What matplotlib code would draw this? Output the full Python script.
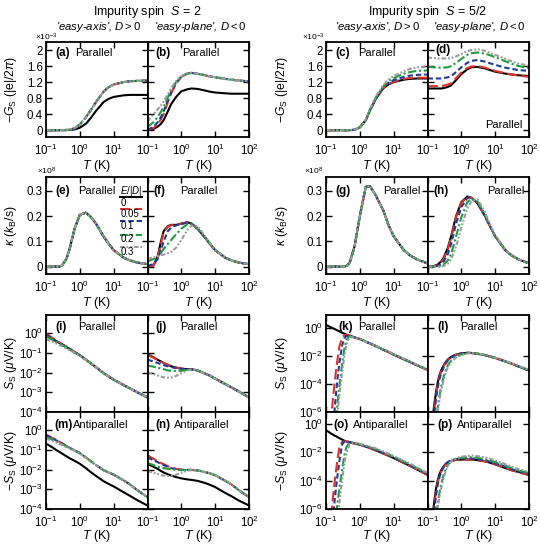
import matplotlib
matplotlib.use('Agg')
import matplotlib.pyplot as plt

plt.rcParams['font.family'] = ['Liberation Sans', 'DejaVu Sans']
plt.rcParams['mathtext.fontset'] = 'custom'
plt.rcParams['mathtext.rm'] = 'Liberation Sans'
plt.rcParams['mathtext.it'] = 'Liberation Sans:italic'
plt.rcParams['mathtext.bf'] = 'Liberation Sans:bold'

# ---------------- data ----------------
T = [0.1, 0.15, 0.2, 0.25, 0.3, 0.4, 0.5, 0.7, 1, 1.5, 2, 3, 5, 7, 10, 20, 30, 50, 100]
TL = [0.1, 0.12, 0.14, 0.16, 0.18, 0.2, 0.22, 0.25, 0.3, 0.35, 0.4, 0.5, 0.7, 1, 1.5, 2, 3, 5, 7, 10, 20, 30, 50, 100]
E_OVER_D = ['0', '0.05', '0.1', '0.2', '0.3']

# (a) -G_S, S=2, easy axis  (x1e-3)
A_BLACK = [0, 0, 0, 0, 0, 0.002, 0.005, 0.02, 0.06, 0.16, 0.28, 0.48, 0.7, 0.78, 0.83, 0.87, 0.88, 0.88, 0.88]
A_COLOR = [0, 0, 0, 0, 0.002, 0.005, 0.01, 0.05, 0.14, 0.32, 0.47, 0.7, 0.96, 1.07, 1.14, 1.2, 1.22, 1.23, 1.24]
# (b) -G_S, S=2, easy plane
B_BLACK = [0, 0.03, 0.09, 0.16, 0.25, 0.47, 0.65, 0.83, 0.97, 1.02, 1.04, 1.03, 0.99, 0.96, 0.94, 0.92, 0.91, 0.91, 0.91]
B_RED = [0, 0.05, 0.15, 0.27, 0.4, 0.7, 0.92, 1.16, 1.33, 1.41, 1.43, 1.41, 1.37, 1.34, 1.32, 1.28, 1.26, 1.24, 1.22]
B_BLUE = [0.01, 0.08, 0.2, 0.33, 0.47, 0.75, 0.95, 1.18, 1.34, 1.41, 1.43, 1.41, 1.37, 1.34, 1.32, 1.28, 1.26, 1.24, 1.22]
B_GREEN = [0.08, 0.2, 0.33, 0.46, 0.58, 0.82, 1.0, 1.2, 1.34, 1.41, 1.43, 1.41, 1.37, 1.34, 1.32, 1.28, 1.26, 1.24, 1.22]
B_GRAY = [0.22, 0.4, 0.52, 0.62, 0.72, 0.9, 1.05, 1.22, 1.35, 1.42, 1.43, 1.41, 1.37, 1.34, 1.32, 1.28, 1.26, 1.24, 1.22]
# (c) -G_S, S=5/2, easy axis
C_BLACK = [0, 0, 0, 0, 0, 0, 0, 0.01, 0.07, 0.25, 0.5, 0.79, 1.05, 1.14, 1.2, 1.26, 1.28, 1.29, 1.29]
C_RED = [0, 0, 0, 0, 0, 0, 0, 0.01, 0.07, 0.25, 0.5, 0.79, 1.06, 1.15, 1.21, 1.28, 1.3, 1.31, 1.31]
C_BLUE = [0, 0, 0, 0, 0, 0, 0, 0.01, 0.07, 0.25, 0.5, 0.8, 1.08, 1.18, 1.25, 1.33, 1.36, 1.38, 1.39]
C_GREEN = [0, 0, 0, 0, 0, 0, 0, 0.01, 0.07, 0.25, 0.51, 0.82, 1.1, 1.22, 1.3, 1.41, 1.45, 1.48, 1.49]
C_GRAY = [0, 0, 0, 0, 0, 0, 0, 0.01, 0.08, 0.27, 0.53, 0.85, 1.13, 1.26, 1.35, 1.47, 1.53, 1.57, 1.58]
# (d) -G_S, S=5/2, easy plane
D_BLACK = [1.04, 1.04, 1.04, 1.04, 1.05, 1.08, 1.12, 1.25, 1.4, 1.52, 1.57, 1.58, 1.54, 1.5, 1.46, 1.41, 1.39, 1.37, 1.35]
D_RED = [1.1, 1.1, 1.1, 1.1, 1.11, 1.14, 1.17, 1.3, 1.44, 1.55, 1.59, 1.6, 1.56, 1.52, 1.48, 1.42, 1.39, 1.36, 1.33]
D_BLUE = [1.29, 1.29, 1.29, 1.29, 1.3, 1.32, 1.35, 1.45, 1.57, 1.68, 1.73, 1.75, 1.71, 1.67, 1.63, 1.56, 1.53, 1.5, 1.48]
D_GREEN = [1.58, 1.57, 1.56, 1.56, 1.56, 1.57, 1.6, 1.68, 1.78, 1.88, 1.92, 1.94, 1.91, 1.87, 1.82, 1.72, 1.66, 1.6, 1.55]
D_GRAY = [1.81, 1.8, 1.79, 1.79, 1.79, 1.79, 1.8, 1.84, 1.9, 1.97, 2.0, 2.02, 1.98, 1.93, 1.88, 1.78, 1.72, 1.66, 1.61]

# (e)-(h) kappa (x1e8)
E_ALL = [0, 0, 0, 0, 0.005, 0.03, 0.07, 0.15, 0.205, 0.213, 0.2, 0.17, 0.12, 0.092, 0.065, 0.035, 0.025, 0.016, 0.01]
F_BLACK = [0, 0.005, 0.04, 0.1, 0.14, 0.16, 0.165, 0.165, 0.17, 0.175, 0.17, 0.15, 0.115, 0.09, 0.065, 0.035, 0.025, 0.016, 0.01]
F_RED = [0, 0.004, 0.035, 0.09, 0.135, 0.158, 0.164, 0.165, 0.17, 0.175, 0.17, 0.15, 0.115, 0.09, 0.065, 0.035, 0.025, 0.016, 0.01]
F_BLUE = [0.003, 0.01, 0.03, 0.065, 0.1, 0.14, 0.155, 0.163, 0.168, 0.174, 0.17, 0.15, 0.115, 0.09, 0.065, 0.035, 0.025, 0.016, 0.01]
F_GREEN = [0.02, 0.03, 0.04, 0.055, 0.07, 0.09, 0.105, 0.128, 0.15, 0.167, 0.17, 0.152, 0.116, 0.091, 0.065, 0.035, 0.025, 0.016, 0.01]
F_GRAY = [0.03, 0.037, 0.042, 0.045, 0.048, 0.052, 0.058, 0.075, 0.105, 0.145, 0.162, 0.16, 0.12, 0.093, 0.066, 0.035, 0.025, 0.016, 0.01]
G_ALL = [0, 0, 0, 0, 0, 0.003, 0.015, 0.08, 0.2, 0.315, 0.318, 0.28, 0.22, 0.165, 0.12, 0.065, 0.045, 0.028, 0.013]
H_BLACK = [0, 0.002, 0.008, 0.02, 0.035, 0.075, 0.12, 0.2, 0.255, 0.277, 0.272, 0.25, 0.2, 0.16, 0.12, 0.065, 0.045, 0.028, 0.013]
H_RED = [0, 0.001, 0.006, 0.017, 0.03, 0.07, 0.115, 0.195, 0.252, 0.276, 0.272, 0.25, 0.2, 0.16, 0.12, 0.065, 0.045, 0.028, 0.013]
H_BLUE = [0, 0, 0.003, 0.01, 0.02, 0.05, 0.09, 0.17, 0.235, 0.272, 0.272, 0.252, 0.2, 0.16, 0.12, 0.065, 0.045, 0.028, 0.013]
H_GREEN = [0, 0, 0, 0.003, 0.008, 0.025, 0.05, 0.12, 0.195, 0.255, 0.268, 0.258, 0.205, 0.162, 0.12, 0.065, 0.045, 0.028, 0.013]
H_GRAY = [0, 0, 0, 0, 0.003, 0.012, 0.03, 0.08, 0.155, 0.23, 0.258, 0.266, 0.215, 0.168, 0.124, 0.067, 0.046, 0.029, 0.013]

# (i),(j),(m),(n) S_S, S=2
I_BLACK = [0.9, 0.55, 0.4, 0.32, 0.27, 0.2, 0.16, 0.11, 0.077, 0.046, 0.032, 0.019, 0.0095, 0.0065, 0.0044, 0.0023, 0.0016, 0.001, 0.00055]
I_RED = [1.0, 0.6, 0.43, 0.34, 0.28, 0.21, 0.165, 0.112, 0.078, 0.046, 0.032, 0.019, 0.0095, 0.0065, 0.0044, 0.0023, 0.0016, 0.001, 0.00055]
I_BLUE = [0.85, 0.55, 0.4, 0.32, 0.27, 0.2, 0.16, 0.11, 0.077, 0.046, 0.032, 0.019, 0.0095, 0.0065, 0.0044, 0.0023, 0.0016, 0.001, 0.00055]
I_GREEN = [0.7, 0.48, 0.36, 0.3, 0.25, 0.19, 0.15, 0.105, 0.075, 0.045, 0.032, 0.019, 0.0095, 0.0065, 0.0044, 0.0023, 0.0016, 0.001, 0.00055]
I_GRAY = [0.5, 0.38, 0.3, 0.25, 0.22, 0.17, 0.14, 0.1, 0.073, 0.045, 0.032, 0.019, 0.0095, 0.0065, 0.0044, 0.0023, 0.0016, 0.001, 0.00055]
J_BLACK = [0.087, 0.06, 0.045, 0.037, 0.031, 0.025, 0.021, 0.018, 0.016, 0.015, 0.0148, 0.013, 0.009, 0.007, 0.005, 0.0026, 0.0018, 0.0011, 0.00055]
J_RED = [0.08, 0.057, 0.044, 0.036, 0.031, 0.025, 0.021, 0.018, 0.016, 0.015, 0.0148, 0.013, 0.009, 0.007, 0.005, 0.0026, 0.0018, 0.0011, 0.00055]
J_BLUE = [0.046, 0.037, 0.031, 0.027, 0.024, 0.021, 0.019, 0.017, 0.0155, 0.015, 0.0148, 0.013, 0.009, 0.007, 0.005, 0.0026, 0.0018, 0.0011, 0.00055]
J_GREEN = [0.023, 0.02, 0.018, 0.016, 0.015, 0.013, 0.0125, 0.012, 0.0125, 0.014, 0.0147, 0.013, 0.009, 0.007, 0.005, 0.0026, 0.0018, 0.0011, 0.00055]
J_GRAY = [0.0107, 0.0085, 0.0072, 0.0063, 0.0058, 0.0055, 0.0056, 0.0068, 0.0095, 0.013, 0.0145, 0.013, 0.009, 0.007, 0.005, 0.0026, 0.0018, 0.0011, 0.00055]
M_BLACK = [0.21, 0.14, 0.1, 0.08, 0.065, 0.048, 0.038, 0.028, 0.02, 0.012, 0.008, 0.0048, 0.0026, 0.0019, 0.0014, 0.0007, 0.00047, 0.00028, 0.00015]
M_RED = [0.62, 0.42, 0.32, 0.26, 0.22, 0.16, 0.13, 0.095, 0.07, 0.042, 0.029, 0.017, 0.0095, 0.0072, 0.0056, 0.0028, 0.0018, 0.0009, 0.0004]
M_BLUE = [0.55, 0.4, 0.31, 0.25, 0.21, 0.16, 0.13, 0.095, 0.07, 0.042, 0.029, 0.017, 0.0095, 0.0072, 0.0056, 0.0028, 0.0018, 0.0009, 0.0004]
M_GREEN = [0.45, 0.34, 0.27, 0.23, 0.2, 0.15, 0.125, 0.092, 0.068, 0.041, 0.029, 0.017, 0.0095, 0.0072, 0.0056, 0.0028, 0.0018, 0.0009, 0.0004]
M_GRAY = [0.38, 0.3, 0.24, 0.2, 0.18, 0.14, 0.12, 0.09, 0.066, 0.041, 0.029, 0.017, 0.0095, 0.0072, 0.0056, 0.0028, 0.0018, 0.0009, 0.0004]
N_BLACK = [0.02, 0.014, 0.011, 0.0085, 0.0072, 0.0058, 0.005, 0.0042, 0.0036, 0.0032, 0.003, 0.0027, 0.0021, 0.0017, 0.0013, 0.00065, 0.00045, 0.00027, 0.00015]
N_RED = [0.054, 0.036, 0.027, 0.022, 0.019, 0.015, 0.013, 0.011, 0.01, 0.0098, 0.0097, 0.0092, 0.0075, 0.0065, 0.0052, 0.0027, 0.0018, 0.0009, 0.0004]
N_BLUE = [0.042, 0.03, 0.024, 0.02, 0.017, 0.014, 0.012, 0.0105, 0.0098, 0.0097, 0.0097, 0.0092, 0.0075, 0.0065, 0.0052, 0.0027, 0.0018, 0.0009, 0.0004]
N_GREEN = [0.022, 0.017, 0.014, 0.013, 0.012, 0.011, 0.0105, 0.0098, 0.0095, 0.0096, 0.0097, 0.0092, 0.0075, 0.0065, 0.0052, 0.0027, 0.0018, 0.0009, 0.0004]
N_GRAY = [0.0085, 0.007, 0.006, 0.0053, 0.005, 0.0047, 0.0048, 0.0055, 0.007, 0.0088, 0.0095, 0.0093, 0.0075, 0.0065, 0.0052, 0.0027, 0.0018, 0.0009, 0.0004]

# (k),(l),(o),(p) S_S, S=5/2  (on TL grid)
K_BLACK = [1.75, 1.41, 1.18, 1.01, 0.88, 0.78, 0.7, 0.6, 0.48, 0.41, 0.36, 0.3, 0.22, 0.17, 0.11, 0.082, 0.052, 0.029, 0.02, 0.013, 0.006, 0.0039, 0.0022, 0.00105]
K_RED = [1e-12, 1e-9, 2e-7, 8.7e-6, 1.3e-4, 1.1e-3, 6.6e-3, 0.054, 0.2, 0.32, 0.34, 0.3, 0.22, 0.17, 0.11, 0.082, 0.052, 0.029, 0.02, 0.013, 0.006, 0.0039, 0.0022, 0.00105]
K_BLUE = [1e-15, 1e-12, 1e-9, 6e-8, 1.5e-6, 2.8e-5, 2.6e-4, 3.7e-3, 0.06, 0.2, 0.28, 0.29, 0.22, 0.17, 0.11, 0.082, 0.052, 0.029, 0.02, 0.013, 0.006, 0.0039, 0.0022, 0.00105]
K_GREEN = [1e-17, 1e-14, 1e-11, 1e-9, 2e-8, 4e-7, 4.6e-6, 8e-5, 2.9e-3, 0.036, 0.15, 0.27, 0.22, 0.17, 0.11, 0.082, 0.052, 0.03, 0.021, 0.0135, 0.0063, 0.0041, 0.0023, 0.0011]
K_GRAY = [1e-18, 1e-15, 1e-12, 1e-10, 3e-9, 6e-8, 1e-6, 1.7e-5, 7e-4, 0.01, 0.07, 0.23, 0.22, 0.17, 0.11, 0.083, 0.053, 0.031, 0.022, 0.014, 0.0066, 0.0043, 0.0024, 0.00115]
L_BLACK = [1e-10, 1e-8, 3e-7, 4e-6, 3e-5, 1.3e-4, 3.5e-4, 9e-4, 2.2e-3, 4e-3, 5.8e-3, 9e-3, 0.013, 0.016, 0.0175, 0.017, 0.015, 0.012, 0.0095, 0.0076, 0.0042, 0.003, 0.0018, 0.00095]
L_RED = [1e-11, 3e-9, 1e-7, 1.8e-6, 1.8e-5, 9e-5, 2.8e-4, 7.5e-4, 2e-3, 3.7e-3, 5.5e-3, 8.7e-3, 0.0128, 0.0158, 0.0175, 0.017, 0.015, 0.012, 0.0095, 0.0076, 0.0042, 0.003, 0.0018, 0.00095]
L_BLUE = [1e-12, 1e-9, 4e-8, 1e-6, 1e-5, 5.5e-5, 1.8e-4, 5.5e-4, 1.6e-3, 3.2e-3, 5e-3, 8.2e-3, 0.0125, 0.0157, 0.0175, 0.017, 0.015, 0.012, 0.0095, 0.0076, 0.0042, 0.003, 0.0018, 0.00095]
L_GREEN = [1e-14, 1e-11, 1e-9, 5e-8, 4e-7, 2e-6, 1e-5, 6e-5, 3.5e-4, 1.1e-3, 2.3e-3, 5e-3, 9.5e-3, 0.0135, 0.0165, 0.0172, 0.0155, 0.0122, 0.0097, 0.0078, 0.0043, 0.0031, 0.0019, 0.001]
L_GRAY = [1e-15, 1e-12, 1e-10, 1e-8, 1.5e-7, 1e-6, 5e-6, 3e-5, 2e-4, 7e-4, 1.6e-3, 4e-3, 8e-3, 0.012, 0.0158, 0.017, 0.0158, 0.0125, 0.01, 0.008, 0.0045, 0.0032, 0.002, 0.00105]
O_BLACK = [0.34, 0.26, 0.2, 0.17, 0.14, 0.13, 0.11, 0.095, 0.075, 0.062, 0.055, 0.048, 0.04, 0.033, 0.024, 0.019, 0.013, 0.0078, 0.0055, 0.0038, 0.0017, 0.0011, 0.00058, 0.00025]
O_RED = [1e-12, 1e-9, 1.5e-7, 6e-6, 8e-5, 6.3e-4, 3.4e-3, 0.025, 0.05, 0.058, 0.056, 0.049, 0.04, 0.033, 0.024, 0.019, 0.013, 0.0078, 0.0055, 0.0038, 0.0017, 0.0011, 0.00058, 0.00025]
O_BLUE = [1e-14, 1e-11, 1e-9, 1e-7, 4e-6, 4e-5, 2.6e-4, 2.5e-3, 0.035, 0.055, 0.057, 0.05, 0.041, 0.034, 0.025, 0.02, 0.014, 0.0085, 0.006, 0.0042, 0.0019, 0.0012, 0.00064, 0.00028]
O_GREEN = [1e-16, 1e-13, 1e-11, 1e-9, 3e-8, 4e-7, 3e-6, 3e-5, 6e-4, 6e-3, 0.022, 0.048, 0.043, 0.036, 0.027, 0.022, 0.016, 0.0098, 0.0069, 0.0048, 0.0021, 0.0014, 0.00073, 0.00032]
O_GRAY = [1e-18, 1e-15, 1e-13, 1e-11, 1e-9, 2e-8, 2e-7, 3e-6, 1e-4, 1.5e-3, 8e-3, 0.035, 0.045, 0.038, 0.029, 0.024, 0.018, 0.011, 0.0077, 0.0053, 0.0024, 0.0016, 0.0008, 0.00035]
P_BLACK = [1e-10, 1e-8, 3e-7, 4e-6, 3e-5, 1e-4, 2.3e-4, 5e-4, 1e-3, 1.5e-3, 1.9e-3, 2.4e-3, 2.8e-3, 2.95e-3, 3e-3, 2.95e-3, 2.7e-3, 2.2e-3, 1.8e-3, 1.35e-3, 7.5e-4, 5.3e-4, 4e-4, 2.4e-4]
P_RED = [1e-11, 3e-9, 1e-7, 1.8e-6, 1.8e-5, 7e-5, 1.8e-4, 4.2e-4, 9e-4, 1.4e-3, 1.8e-3, 2.35e-3, 2.8e-3, 3e-3, 3.05e-3, 3e-3, 2.75e-3, 2.25e-3, 1.85e-3, 1.4e-3, 7.8e-4, 5.5e-4, 3.6e-4, 2.5e-4]
P_BLUE = [1e-12, 1e-9, 4e-8, 1e-6, 1e-5, 5e-5, 1.4e-4, 3.7e-4, 9e-4, 1.5e-3, 2e-3, 2.7e-3, 3.2e-3, 3.5e-3, 3.55e-3, 3.5e-3, 3.2e-3, 2.6e-3, 2.15e-3, 1.65e-3, 9.2e-4, 6.5e-4, 4.3e-4, 2.9e-4]
P_GREEN = [1e-14, 1e-11, 1e-9, 5e-8, 4e-7, 2e-6, 1e-5, 5e-5, 2.5e-4, 7e-4, 1.3e-3, 2.3e-3, 3.3e-3, 4e-3, 4.3e-3, 4.3e-3, 3.9e-3, 3.2e-3, 2.6e-3, 2e-3, 1.1e-3, 7.8e-4, 5.1e-4, 3.4e-4]
P_GRAY = [1e-15, 1e-12, 1e-10, 1e-8, 1.5e-7, 1e-6, 5e-6, 2.5e-5, 1.5e-4, 5e-4, 1.1e-3, 2.2e-3, 3.6e-3, 4.7e-3, 5.4e-3, 5.6e-3, 5.2e-3, 4.2e-3, 3.4e-3, 2.6e-3, 1.4e-3, 9.5e-4, 6.2e-4, 4e-4]

# ---------------- styles ----------------
STYLES = [
    dict(color='black', lw=1.5, ls='-'),
    dict(color='#e3312b', lw=1.5, dashes=(5, 2)),
    dict(color='#1f3a9a', lw=1.5, dashes=(2.6, 1.4)),
    dict(color='#1f9a3e', lw=1.5, dashes=(4, 1.3, 1, 1.3)),
    dict(color='#9b9b9b', lw=1.5, dashes=(2.2, 0.9, 0.9, 0.9, 0.9, 0.9)),
]

W, H = 540, 544
fig = plt.figure(figsize=(W / 100, H / 100), dpi=100)

COLS = [46, 147.5, 326, 427.5]
PW = 101.5
ROWS = [(42, 137), (177, 274), (315, 412), (412, 509)]

def fx(px):
    return px / W

def fy(py):
    return 1 - py / H

def make_ax(col, row):
    x0 = COLS[col]
    y0, y1 = ROWS[row]
    return fig.add_axes([fx(x0), fy(y1), PW / W, (y1 - y0) / H])

XT = [0.1, 1, 10, 100]
XL_FULL = [r'$\mathdefault{10^{-1}}$', r'$\mathdefault{10^{0}}$', r'$\mathdefault{10^{1}}$', r'$\mathdefault{10^{2}}$']
XL_LEFT = XL_FULL[:3] + ['']

panels = [
    # label, col, row, x, series
    ('a', 0, 0, T, [A_BLACK, A_COLOR, A_COLOR, A_COLOR, A_COLOR]),
    ('b', 1, 0, T, [B_BLACK, B_RED, B_BLUE, B_GREEN, B_GRAY]),
    ('c', 2, 0, T, [C_BLACK, C_RED, C_BLUE, C_GREEN, C_GRAY]),
    ('d', 3, 0, T, [D_BLACK, D_RED, D_BLUE, D_GREEN, D_GRAY]),
    ('e', 0, 1, T, [E_ALL, E_ALL, E_ALL, E_ALL, E_ALL]),
    ('f', 1, 1, T, [F_BLACK, F_RED, F_BLUE, F_GREEN, F_GRAY]),
    ('g', 2, 1, T, [G_ALL, G_ALL, G_ALL, G_ALL, G_ALL]),
    ('h', 3, 1, T, [H_BLACK, H_RED, H_BLUE, H_GREEN, H_GRAY]),
    ('i', 0, 2, T, [I_BLACK, I_RED, I_BLUE, I_GREEN, I_GRAY]),
    ('j', 1, 2, T, [J_BLACK, J_RED, J_BLUE, J_GREEN, J_GRAY]),
    ('k', 2, 2, TL, [K_BLACK, K_RED, K_BLUE, K_GREEN, K_GRAY]),
    ('l', 3, 2, TL, [L_BLACK, L_RED, L_BLUE, L_GREEN, L_GRAY]),
    ('m', 0, 3, T, [M_BLACK, M_RED, M_BLUE, M_GREEN, M_GRAY]),
    ('n', 1, 3, T, [N_BLACK, N_RED, N_BLUE, N_GREEN, N_GRAY]),
    ('o', 2, 3, TL, [O_BLACK, O_RED, O_BLUE, O_GREEN, O_GRAY]),
    ('p', 3, 3, TL, [P_BLACK, P_RED, P_BLUE, P_GREEN, P_GRAY]),
]

TICKFS = 8.3
for lab, col, row, x, series in panels:
    ax = make_ax(col, row)
    for y, st in zip(series, STYLES):
        ax.plot(x, y, dash_capstyle='butt', **st)
    ax.set_xscale('log')
    ax.set_xlim(0.1, 100)
    if row == 0:
        ax.set_ylim(-0.17, 2.2)
        ax.set_yticks([0, 0.4, 0.8, 1.2, 1.6, 2])
        ax.set_yticklabels(['0', '0.4', '0.8', '1.2', '1.6', '2'])
    elif row == 1:
        ax.set_ylim(-0.029, 0.354)
        ax.set_yticks([0, 0.1, 0.2, 0.3])
        ax.set_yticklabels(['0', '0.1', '0.2', '0.3'])
    else:
        ax.set_yscale('log')
        if col < 2:
            ax.set_ylim(1e-4, 8.5)
            ax.set_yticks([1e-4, 1e-3, 1e-2, 1e-1, 1])
            ax.set_yticklabels([r'$\mathdefault{10^{-4}}$', r'$\mathdefault{10^{-3}}$', r'$\mathdefault{10^{-2}}$',
                                r'$\mathdefault{10^{-1}}$', r'$\mathdefault{10^{0}}$'])
        else:
            ax.set_ylim(1e-6, 9 if row == 2 else 6.5)
            ax.set_yticks([1e-6, 1e-4, 1e-2, 1])
            ax.set_yticklabels([r'$\mathdefault{10^{-6}}$', r'$\mathdefault{10^{-4}}$',
                                r'$\mathdefault{10^{-2}}$', r'$\mathdefault{10^{0}}$'])
    ax.set_xticks(XT)
    if row == 2:
        ax.set_xticklabels(['', '', '', ''])
    else:
        ax.set_xticklabels(XL_FULL if col in (1, 3) else XL_LEFT)
    ax.minorticks_off()
    if col in (1, 3):
        ax.tick_params(axis='y', labelleft=False)
    ax.tick_params(which='both', direction='in', top=True, right=True, length=4, width=1,
                   labelsize=TICKFS)
    ax.tick_params(axis='x', pad=4.5)
    ax.tick_params(axis='y', pad=2.2)
    for s in ax.spines.values():
        s.set_linewidth(1.3)
    if lab == 'e':
        # legend drawn inside panel (e)
        ax.text(0.73, 0.86, r'$E/|D|$', transform=ax.transAxes, fontsize=7, va='center', ha='left')
        line_y = [0.79, 0.667, 0.546, 0.402, 0.281]
        text_y = [0.729, 0.619, 0.495, 0.358, 0.23]
        for st, ly, ty, name in zip(STYLES, line_y, text_y, E_OVER_D):
            ax.plot([0.729, 0.943], [ly, ly], transform=ax.transAxes, dash_capstyle='butt', **st)
            ax.text(0.735, ty, name, transform=ax.transAxes, fontsize=7, va='center', ha='left')

# panel labels (fig px positions)
LABELS = [
    ('(a)', 55, 53, 'Parallel', 75, 53), ('(b)', 155, 53, 'Parallel', 182, 53),
    ('(c)', 335, 53, 'Parallel', 358, 53), ('(d)', 435, 50, 'Parallel', 485, 125),
    ('(e)', 55, 191, 'Parallel', 78, 191), ('(f)', 153, 191, 'Parallel', 180, 191),
    ('(g)', 335, 191, 'Parallel', 383, 191), ('(h)', 433, 191, 'Parallel', 487, 191),
    ('(i)', 55, 327, 'Parallel', 78, 327), ('(j)', 155, 327, 'Parallel', 180, 327),
    ('(k)', 338, 327, 'Parallel', 358, 327), ('(l)', 437, 327, 'Parallel', 460, 327),
    ('(m)', 54, 425, 'Antiparallel', 73, 425), ('(n)', 155, 425, 'Antiparallel', 174, 425),
    ('(o)', 333, 425, 'Antiparallel', 353, 425), ('(p)', 437, 425, 'Antiparallel', 457, 425),
]
for t1, x1, y1, t2, x2, y2 in LABELS:
    fig.text(fx(x1), fy(y1), t1, fontsize=8.5, fontweight='bold', ha='left', va='center')
    fig.text(fx(x2), fy(y2), t2, fontsize=8, ha='left', va='center')

# titles
fig.text(fx(147.5), fy(12), r'Impurity spin  $S$ = 2', fontsize=9, ha='center', va='center')
fig.text(fx(427.5), fy(12), r'Impurity spin  $S$ = 5/2', fontsize=9, ha='center', va='center')
for cx, txt in [(99, "'easy-axis', $D>0$"), (200, "'easy-plane', $D<0$"),
                (378, "'easy-axis', $D>0$"), (479, "'easy-plane', $D<0$")]:
    fig.text(fx(cx), fy(27), txt, fontsize=8.2, style='italic', ha='center', va='center')

# multipliers
for px, py, txt in [(35, 37, r'$\times$10$^{-3}$'), (302, 37, r'$\times$10$^{-3}$'),
                    (37, 171, r'$\times$10$^{8}$'), (304, 171, r'$\times$10$^{8}$')]:
    fig.text(fx(px), fy(py), txt, fontsize=6, ha='left', va='center')

# y labels
YLAB = [(89.5, r'$-G_{\rm S}$ (|e|/2$\pi$)'), (225.5, r'$\kappa$ ($k_{\rm B}$/s)'),
        (363.5, r'$S_{\rm S}$ ($\mu$V/K)'), (460.5, r'$-S_{\rm S}$ ($\mu$V/K)')]
for yc, txt in YLAB:
    for xc in (11, 282):
        fig.text(fx(xc), fy(yc), txt, fontsize=8.8, rotation=90, ha='center', va='center')

# x labels
for yc in (166, 303, 536):
    for c in COLS:
        fig.text(fx(c + PW / 2), fy(yc), r'$T$ (K)', fontsize=9, ha='center', va='center')

fig.savefig('out.png', dpi=100)
